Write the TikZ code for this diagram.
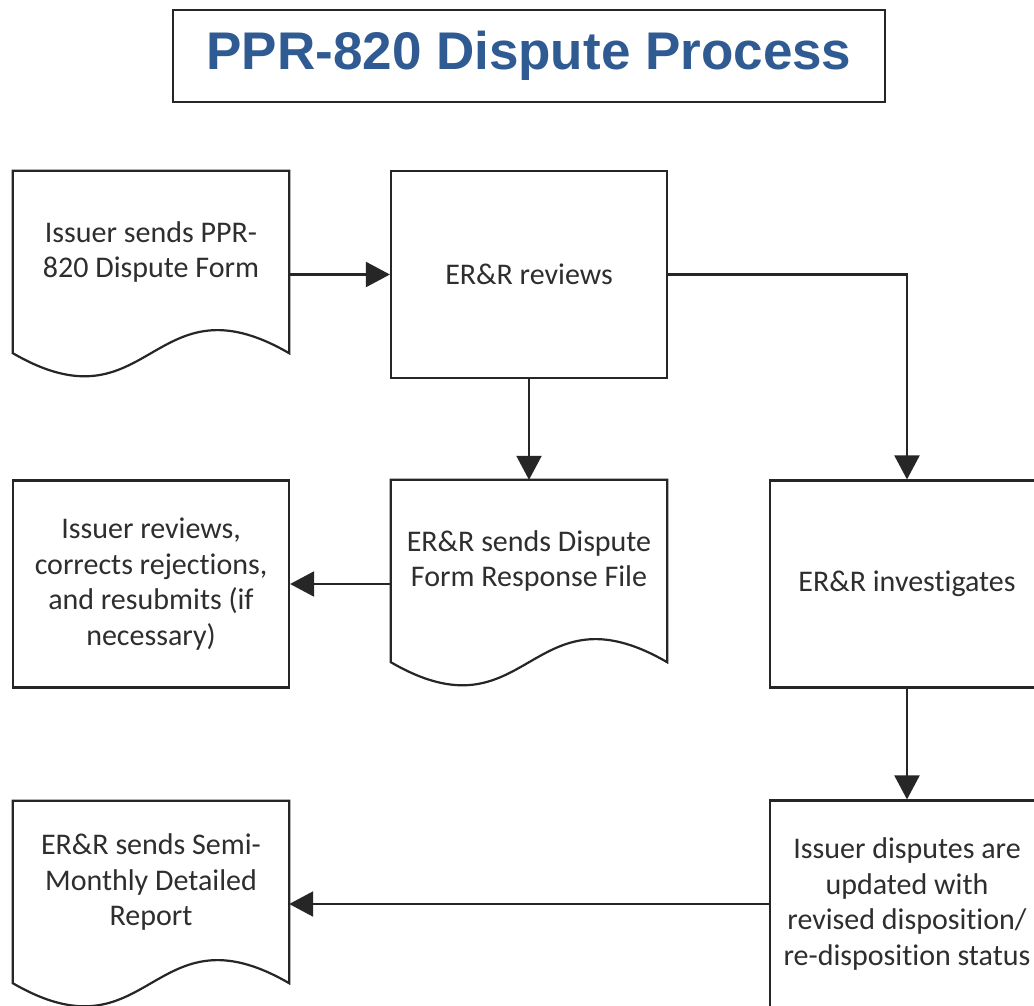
\documentclass[tikz,border=0pt]{standalone}
\usepackage{fontspec}
\setmainfont{Carlito}[Ligatures={NoCommon}]
\newfontfamily\titlefont{Liberation Sans}
\usetikzlibrary{arrows.meta}
\definecolor{ttl}{HTML}{2F5A92}
\definecolor{ln}{HTML}{262626}
\definecolor{txt}{HTML}{2E2E2E}
\newcommand\docshape[1]{%
  \draw[ln,line width=2.2pt] (#1.north west) -- (#1.north east) -- ([yshift=-20pt]#1.south east)
    .. controls +(-138,-80) and +(138,80) .. ([yshift=-20pt]#1.south west) -- cycle;}
\begin{document}
\begin{tikzpicture}[x=1pt,y=-1pt,
  lbl/.style={text=txt,align=center,font=\fontsize{30}{35.5}\selectfont},
  box/.style={lbl,draw=ln,line width=2.2pt,rectangle,minimum width=276pt,minimum height=207pt,inner sep=0pt},
  docbody/.style={lbl,rectangle,minimum width=276pt,minimum height=162pt,inner sep=0pt},
  arr/.style={draw=ln,line width=2.2pt,-{Triangle[length=24pt,width=25pt]}},
]
\useasboundingbox (0,0) rectangle (1034,1005);
\clip (0,0) rectangle (1034,1005);
\fill[white] (0,0) rectangle (1034,1005);

\node[draw=ln,line width=2.5pt,minimum width=712pt,minimum height=92pt,inner sep=0pt,
  text=ttl,font=\titlefont\bfseries\fontsize{53}{60}\selectfont] (title) at (529,56) {PPR-820 Dispute Process};

\node[docbody] (doc1) at (151,252) {Issuer sends PPR-\\820 Dispute Form};
\docshape{doc1}
\node[box] (rev) at (529,274.5) {ER\&R reviews};

\node[box] (irev) at (151,584) {Issuer reviews,\\corrects rejections,\\and resubmits (if\\necessary)};
\node[docbody] (doc2) at (529,561) {ER\&R sends Dispute\\Form Response File};
\docshape{doc2}
\node[box,minimum width=274pt] (inv) at (907,584) {ER\&R investigates};

\node[docbody] (doc3) at (151,882) {ER\&R sends Semi-\\Monthly Detailed\\Report};
\docshape{doc3}
\node[box,minimum width=274pt] (upd) at (907,904) {Issuer disputes are\\updated with\\revised disposition/\\re-disposition status};

\draw[arr] (doc1.east |- rev.west) -- (rev.west);
\draw[arr] (rev.south) -- (doc2.north);
\draw[arr] (rev.east) -| (inv.north);
\draw[arr] (doc2.west |- irev.east) -- (irev.east);
\draw[arr] (inv.south) -- (upd.north);
\draw[arr] (upd.west) -- (doc3.east |- upd.west);
\end{tikzpicture}
\end{document}
